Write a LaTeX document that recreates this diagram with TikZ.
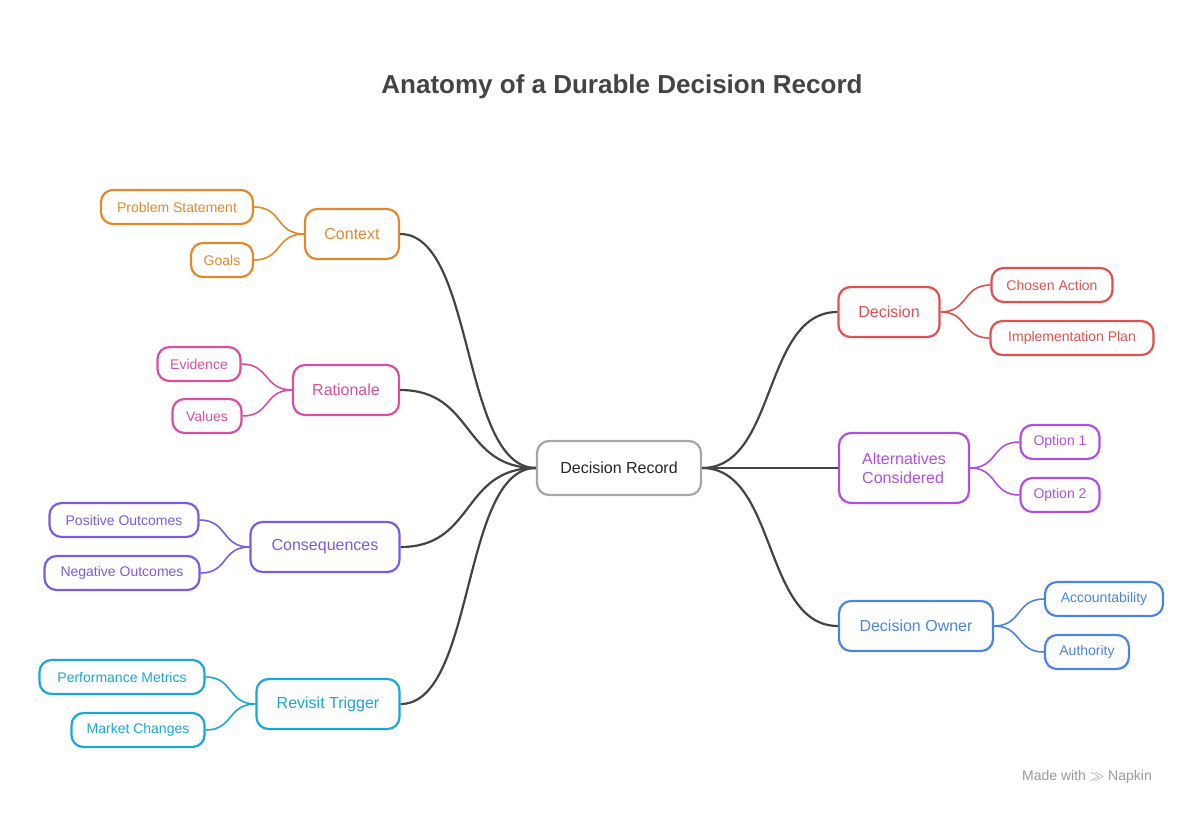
\documentclass[tikz,border=0pt]{standalone}
\usepackage{fontspec}
\setmainfont{Liberation Sans}
\definecolor{cOr}{HTML}{E08A2E}
\definecolor{cPk}{HTML}{D94FA0}
\definecolor{cPu}{HTML}{7B5BE0}
\definecolor{cCy}{HTML}{1BA6D8}
\definecolor{cRd}{HTML}{E05050}
\definecolor{cVi}{HTML}{B050E0}
\definecolor{cBl}{HTML}{4A86E0}
\definecolor{cDk}{HTML}{444444}
\begin{document}
\begin{tikzpicture}[x=1pt,y=-1pt,
 box/.style={draw=#1,text=#1,line width=2.2pt,rounded corners=12pt,align=center,inner sep=0pt},
 br/.style={box=#1,minimum height=50pt,font=\fontsize{16}{19}\selectfont},
 lf/.style={box=#1,minimum height=34pt,font=\fontsize{14}{16}\selectfont},
 main/.style={draw=cDk,line width=2.2pt},
 sub/.style={draw=#1,line width=1.6pt}]
\useasboundingbox (0,0) rectangle (1201,817);
\node[font=\bfseries\fontsize{26}{30}\selectfont,text=cDk] (title) at (622,87) {Anatomy of a Durable Decision Record};
\node[box=gray!70,text=black!85,line width=2.2pt,minimum width=164pt,minimum height=54pt,font=\fontsize{16}{19}\selectfont] (c) at (619,468) {Decision Record};
% left
\node[br=cOr,minimum width=94pt] (ctx) at (352,234) {Context};
\node[lf=cOr,minimum width=152pt] (ps) at (177,207) {Problem Statement};
\node[lf=cOr,minimum width=62pt] (go) at (222,260) {Goals};
\node[br=cPk,minimum width=106pt] (rat) at (346,390) {Rationale};
\node[lf=cPk,minimum width=83pt] (ev) at (199,364) {Evidence};
\node[lf=cPk,minimum width=69pt] (va) at (207,416) {Values};
\node[br=cPu,minimum width=149pt] (con) at (325,547) {Consequences};
\node[lf=cPu,minimum width=149pt] (po) at (124,520) {Positive Outcomes};
\node[lf=cPu,minimum width=155pt] (no) at (122,573) {Negative Outcomes};
\node[br=cCy,minimum width=143pt] (rev) at (328,704) {Revisit Trigger};
\node[lf=cCy,minimum width=165pt] (pm) at (122,677) {Performance Metrics};
\node[lf=cCy,minimum width=133pt] (mc) at (138,730) {Market Changes};
% right
\node[br=cRd,minimum width=101pt] (dec) at (889,312) {Decision};
\node[lf=cRd,minimum width=121pt] (ca) at (1052,285) {Chosen Action};
\node[lf=cRd,minimum width=163pt] (ip) at (1072,338) {Implementation Plan};
\node[br=cVi,minimum width=130pt,minimum height=70pt,align=left] (alt) at (904,468) {Alternatives\\Considered};
\node[lf=cVi,minimum width=79pt] (o1) at (1060,442) {Option 1};
\node[lf=cVi,minimum width=79pt] (o2) at (1060,495) {Option 2};
\node[br=cBl,minimum width=154pt] (own) at (916,626) {Decision Owner};
\node[lf=cBl,minimum width=118pt] (acc) at (1104,599) {Accountability};
\node[lf=cBl,minimum width=84pt] (aut) at (1087,652) {Authority};
% main connectors
\foreach \b in {ctx,rat,con,rev}
  \draw[main] (c.west) .. controls +(-75,0) and +(75,0) .. (\b.east);
\foreach \b in {dec,own}
  \draw[main] (c.east) .. controls +(75,0) and +(-75,0) .. (\b.west);
\draw[main] (c.east) -- (alt.west);
% sub connectors
\foreach \p/\l/\col in {ctx/ps/cOr,ctx/go/cOr,rat/ev/cPk,rat/va/cPk,con/po/cPu,con/no/cPu,rev/pm/cCy,rev/mc/cCy}
  \draw[sub=\col] (\p.west) .. controls +(-28,0) and +(28,0) .. (\l.east);
\foreach \p/\l/\col in {dec/ca/cRd,dec/ip/cRd,alt/o1/cVi,alt/o2/cVi,own/acc/cBl,own/aut/cBl}
  \draw[sub=\col] (\p.east) .. controls +(28,0) and +(-28,0) .. (\l.west);
\node[text=gray!80,font=\fontsize{14}{16}\selectfont] (wm) at (1087,777) {Made with \textbf{$\gg$} Napkin};
\end{tikzpicture}
\end{document}
